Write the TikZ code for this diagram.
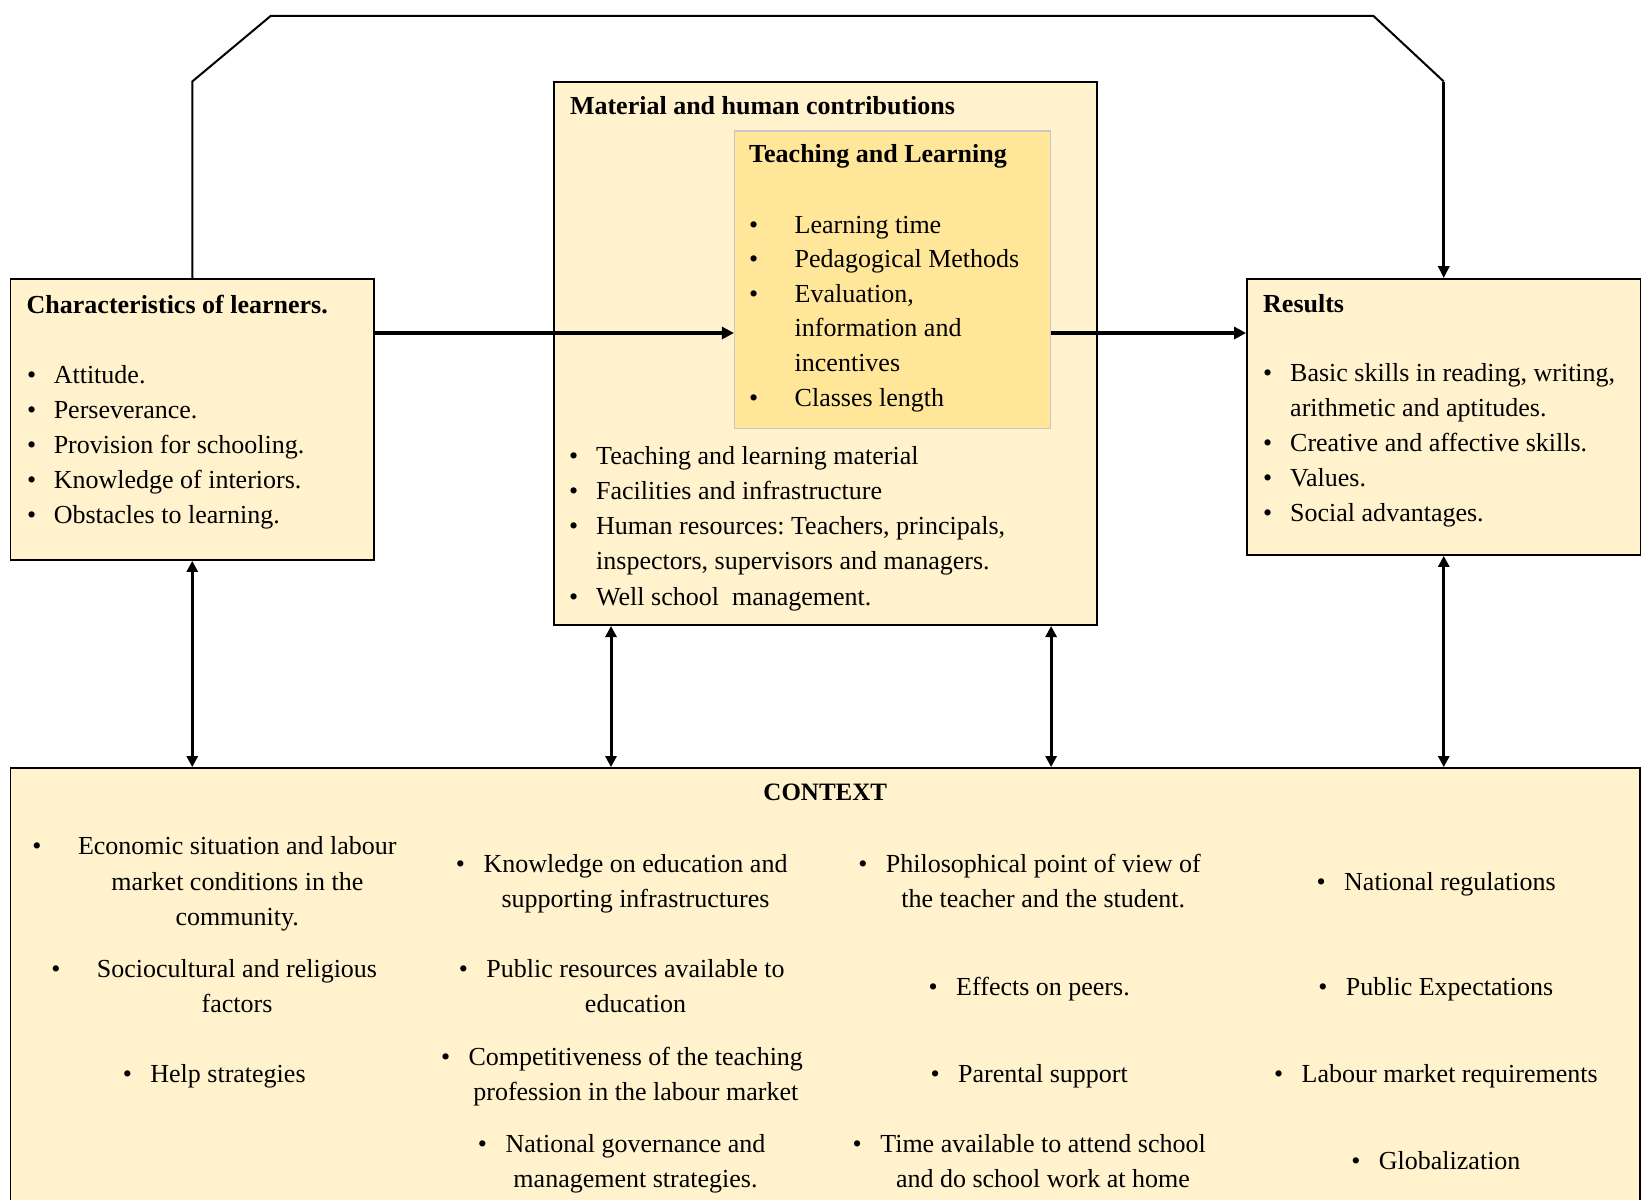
\documentclass[tikz,border=0pt]{standalone}
\usepackage{fontspec}
\setmainfont{Liberation Serif}
\usetikzlibrary{arrows.meta}
\definecolor{boxfill}{HTML}{FFF2CC}
\definecolor{innerfill}{HTML}{FFE699}
\definecolor{innerline}{HTML}{C8C8C8}
\newcommand\bx[1]{\makebox[#1][l]{\textbullet}}
\newcommand\cb[1]{\llap{\textbullet\hspace{#1}}}
\frenchspacing
\begin{document}
\begin{tikzpicture}[x=1pt,y=-1pt,
  box/.style={draw=black, line width=1.8pt, fill=boxfill, inner sep=0, anchor=center},
  innerbox/.style={draw=innerline, line width=1.2pt, fill=innerfill, inner sep=0, anchor=center},
  txt/.style={inner sep=0, font=\fontsize{26}{35.1}\selectfont, align=left, anchor=base west},
  hd/.style={inner sep=0, font=\fontsize{26}{35}\selectfont\bfseries, anchor=base west},
  ctx/.style={inner sep=0, font=\fontsize{26}{35.6}\selectfont, align=center, anchor=base},
  thickarrow/.style={line width=3.6pt, -{Triangle[length=12pt,width=12pt]}},
  dblarrow/.style={line width=3pt, {Triangle[length=11pt,width=11pt]}-{Triangle[length=11pt,width=11pt]}},
  thinline/.style={line width=2pt}]
\useasboundingbox (0,0) rectangle (1643,1199);

% boxes
\node[box, minimum width=363.5pt, minimum height=281pt] (L) at (192.25,419.5) {};
\node[box, minimum width=543.2pt, minimum height=543pt] (M) at (825.4,353.6) {};
\node[innerbox, minimum width=316pt, minimum height=297.8pt] (I) at (892.5,279.9) {};
\node[box, minimum width=393.5pt, minimum height=276pt] (R) at (1443.75,417) {};
\node[box, minimum width=1629.5pt, minimum height=447pt] (C) at (825.25,991.5) {};

% left box text (multi-line nodes are anchored at the baseline of their last line)
\node[hd] (Lh) at (26.5,313) {Characteristics of learners.};
\node[txt] (Ll) at (27,523.4) {\bx{26.6pt}Attitude.\\
\bx{26.6pt}Perseverance.\\
\bx{26.6pt}Provision for schooling.\\
\bx{26.6pt}Knowledge of interiors.\\
\bx{26.6pt}Obstacles to learning.};

% middle box text
\node[hd] (Mh) at (569.8,114.8) {Material and human contributions};
\node[hd] (Ih) at (749,162.8) {Teaching and Learning};
\node[txt, font=\fontsize{26}{34.6}\selectfont] (Il) at (749,406) {\bx{45.5pt}Learning time\\
\bx{45.5pt}Pedagogical Methods\\
\bx{45.5pt}Evaluation,\\
\hspace*{45.5pt}information and\\
\hspace*{45.5pt}incentives\\
\bx{45.5pt}Classes length};
\node[txt, font=\fontsize{26}{35.25}\selectfont] (Ml) at (569,605) {\bx{27pt}Teaching and learning material\\
\bx{27pt}Facilities and infrastructure\\
\bx{27pt}Human resources: Teachers, principals,\\
\hspace*{27pt}inspectors, supervisors and managers.\\
\bx{27pt}Well school\ \ management.};

% results text
\node[hd] (Rh) at (1263,312.6) {Results};
\node[txt] (Rl) at (1263,521.4) {\bx{27pt}Basic skills in reading, writing,\\
\hspace*{27pt}arithmetic and aptitudes.\\
\bx{27pt}Creative and affective skills.\\
\bx{27pt}Values.\\
\bx{27pt}Social advantages.};

% context
\node[hd, anchor=base, font=\fontsize{25}{30}\selectfont\bfseries] (Ch) at (825.3,800) {CONTEXT};
\node[ctx] (c1a) at (237.3,925.7) {\cb{36.5pt}Economic situation and labour\\ market conditions in the\\ community.};
\node[ctx] (c1b) at (237,1012.6) {\cb{36.5pt}Sociocultural and religious\\ factors};
\node[ctx] (c1c) at (228,1082) {\cb{18.5pt}Help strategies};
\node[ctx] (c2a) at (635.5,907.6) {\cb{18.5pt}Knowledge on education and\\ supporting infrastructures};
\node[ctx] (c2b) at (635.5,1012.6) {\cb{18.5pt}Public resources available to\\ education};
\node[ctx] (c2c) at (635.8,1100.6) {\cb{18.5pt}Competitiveness of the teaching\\ profession in the labour market};
\node[ctx] (c2d) at (635.5,1187.6) {\cb{18.5pt}National governance and\\ management strategies.};
\node[ctx] (c3a) at (1043.3,907.6) {\cb{18.5pt}Philosophical point of view of\\ the teacher and the student.};
\node[ctx] (c3b) at (1043,995) {\cb{18.5pt}Effects on peers.};
\node[ctx] (c3c) at (1043,1082) {\cb{18.5pt}Parental support};
\node[ctx] (c3d) at (1043,1187.6) {\cb{18.5pt}Time available to attend school\\ and do school work at home};
\node[ctx] (c4a) at (1450,890) {\cb{18.5pt}National regulations};
\node[ctx] (c4b) at (1449.5,995) {\cb{18.5pt}Public Expectations};
\node[ctx] (c4c) at (1449.7,1082) {\cb{18.5pt}Labour market requirements};
\node[ctx] (c4d) at (1449.7,1169) {\cb{18.5pt}Globalization};

% connectors
\coordinate (ya) at (0,333);
\coordinate (cornery) at (0,81.5);
\draw[thickarrow] (L.east |- ya) -- (I.west |- ya);
\draw[thickarrow] (I.east |- ya) -- (R.west |- ya);
\draw[thinline, line join=miter] (L.north) -- (L.north |- cornery) -- (270.6,16) -- (1373.5,16) -- (R.north |- cornery);
\draw[line width=3.4pt, -{Triangle[length=12pt,width=11pt]}] (R.north |- cornery) -- (R.north);
\draw[dblarrow] (L.south) -- (C.north -| L.south);
\coordinate (mx) at (611,0);
\draw[dblarrow] (M.south -| mx) -- (C.north -| mx);
\draw[dblarrow] (M.south -| I.east) -- (C.north -| I.east);
\draw[dblarrow] (R.south) -- (C.north -| R.south);
\end{tikzpicture}
\end{document}
